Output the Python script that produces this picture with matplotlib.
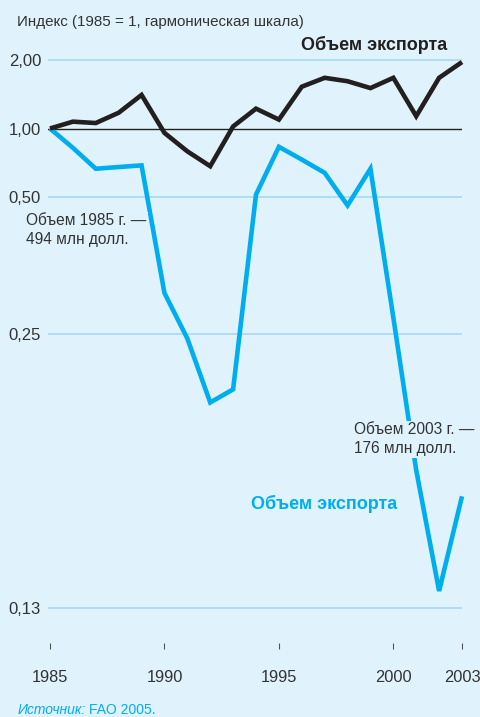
import numpy as np
import matplotlib
matplotlib.use("Agg")
import matplotlib.pyplot as plt

# --- data -------------------------------------------------------------
years = list(range(1985, 2004))
export_value = [1.00, 1.10, 1.08, 1.23, 1.49, 0.94, 0.75, 0.645, 1.03, 1.29,
                1.13, 1.61, 1.74, 1.69, 1.59, 1.74, 1.18, 1.74, 1.97]
export_volume = [1.00, 0.78, 0.63, 0.64, 0.65, 0.294, 0.246, 0.200, 0.208, 0.509,
                 0.789, 0.688, 0.607, 0.471, 0.630, 0.266, 0.167, 0.129, 0.157]
ytick_values = [2.0, 1.0, 0.5, 0.25, 0.125]
ytick_labels = ["2,00", "1,00", "0,50", "0,25", "0,13"]
xtick_years = [1985, 1990, 1995, 2000, 2003]

# --- style ------------------------------------------------------------
BG = "#e0f2fb"
GRID = "#a6daf3"
BLACK = "#231f20"
BLUE = "#00aeef"
TEXT = "#333333"

plt.rcParams["font.family"] = ["Liberation Sans", "DejaVu Sans"]


# harmonic scale: linear above 1, reciprocal below 1
def fwd(v):
    v = np.asarray(v, dtype=float)
    with np.errstate(divide="ignore", invalid="ignore"):
        return np.where(v >= 1, v - 1, 1 - 1 / v)


def inv(y):
    y = np.asarray(y, dtype=float)
    with np.errstate(divide="ignore", invalid="ignore"):
        return np.where(y >= 0, y + 1, 1 / (1 - y))


W, H = 480, 717
fig = plt.figure(figsize=(W / 100, H / 100), dpi=100, facecolor=BG)
ax = fig.add_axes([48 / W, 1 - 649 / H, (462 - 48) / W, (649 - 40) / H])
ax.set_facecolor(BG)
ax.set_yscale("function", functions=(fwd, inv))
ax.set_ylim(0.1163, 2.292)
ax.set_xlim(1985 - 2 / 22.89, 2003)

for s in ax.spines.values():
    s.set_visible(False)

for v in ytick_values:
    if v == 1.0:
        ax.axhline(v, color=BLACK, lw=1.0, zorder=1)
    else:
        ax.axhline(v, color=GRID, lw=1.2, zorder=1)

ax.plot(years, export_value, color=BLACK, lw=3.3, solid_joinstyle="miter",
        solid_capstyle="butt", clip_on=False, zorder=3)
ax.plot(years, export_volume, color=BLUE, lw=3.3, solid_joinstyle="miter",
        solid_capstyle="butt", clip_on=False, zorder=2)

ax.set_yticks(ytick_values)
ax.set_yticklabels(ytick_labels)
ax.yaxis.set_minor_locator(matplotlib.ticker.NullLocator())
ax.tick_params(axis="y", length=0, pad=5, labelsize=12, labelcolor=TEXT)

ax.set_xticks(xtick_years)
ax.set_xticklabels([str(y) for y in xtick_years])
ax.tick_params(axis="x", direction="in", length=4.5, width=0.8, color="#555555",
               pad=15, labelsize=11.8, labelcolor=TEXT)


def fx(px):
    return px / W


def fy(py):
    return 1 - py / H


fig.text(fx(17), fy(22), "Индекс (1985 = 1, гармоническая шкала)",
         fontsize=10.9, color=TEXT, va="center", ha="left")
fig.text(fx(447), fy(45), "Объем экспорта", fontsize=13, fontweight="bold",
         color=BLACK, va="center", ha="right")
fig.text(fx(324), fy(504), "Объем экспорта", fontsize=13, fontweight="bold",
         color=BLUE, va="center", ha="center")

box = dict(facecolor=BG, edgecolor="none", pad=1.0)
fig.text(fx(26), fy(230), "Объем 1985 г. —\n494 млн долл.", fontsize=11.2,
         color=TEXT, va="center", ha="left", linespacing=1.35, bbox=box, zorder=5)
fig.text(fx(354), fy(439), "Объем 2003 г. —\n176 млн долл.", fontsize=11.2,
         color=TEXT, va="center", ha="left", linespacing=1.35, bbox=box, zorder=5)

src = fig.text(fx(18), fy(710), "Источник:", fontsize=10, style="italic",
               color=BLUE, va="center", ha="left")
fig.canvas.draw()
bb = src.get_window_extent()
fig.text(bb.x1 / W + 3 / W, fy(710), "FAO 2005.", fontsize=10, color=BLUE,
         va="center", ha="left")

fig.savefig("out.png", dpi=100, facecolor=BG)
